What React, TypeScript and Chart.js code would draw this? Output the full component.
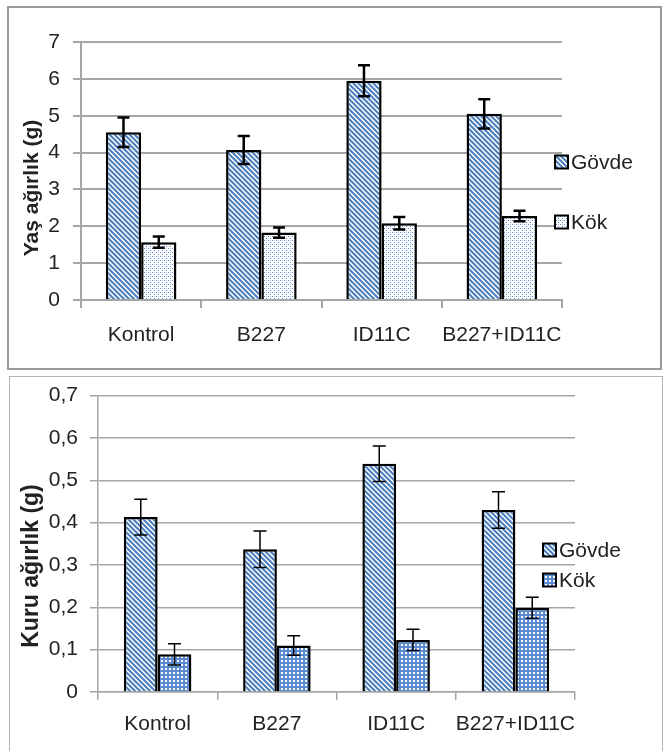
import React, { useEffect, useRef } from "react";
import { Chart, registerables } from "chart.js";

Chart.register(...registerables);

// ---------- data ----------
const categories = ["Kontrol", "B227", "ID11C", "B227+ID11C"];
const seriesLabels = ["Gövde", "Kök"];

const freshStem = [4.55, 4.07, 5.95, 5.05];
const freshStemErr = [0.4, 0.38, 0.42, 0.4];
const freshRoot = [1.57, 1.83, 2.08, 2.28];
const freshRootErr = [0.15, 0.14, 0.17, 0.14];
const freshTickLabels = ["0", "1", "2", "3", "4", "5", "6", "7"];
const freshTitle = "Yaş ağırlık (g)";

const dryStem = [0.413, 0.337, 0.539, 0.43];
const dryStemErr = [0.042, 0.043, 0.042, 0.043];
const dryRoot = [0.089, 0.11, 0.123, 0.199];
const dryRootErr = [0.025, 0.023, 0.025, 0.025];
const dryTickLabels = ["0", "0,1", "0,2", "0,3", "0,4", "0,5", "0,6", "0,7"];
const dryTitle = "Kuru ağırlık (g)";

// ---------- styles ----------
const FONT = "'Liberation Sans', Arial, sans-serif";
const BLUE = "#4a7ebf";
const GRID = "#a6a6a6";
const TEXT = "#222";
const TICK_SIZE = 21;

function stripePattern(ctx: CanvasRenderingContext2D) {
  const n = 5;
  const c = document.createElement("canvas");
  c.width = n;
  c.height = n;
  const g = c.getContext("2d")!;
  g.fillStyle = "#fff";
  g.fillRect(0, 0, n, n);
  g.strokeStyle = BLUE;
  g.lineWidth = 2;
  g.beginPath();
  for (const k of [-n, 0, n]) {
    g.moveTo(-1, -1 + k);
    g.lineTo(n + 1, n + 1 + k);
  }
  g.stroke();
  return ctx.createPattern(c, "repeat")!;
}

function dotPattern(ctx: CanvasRenderingContext2D) {
  const c = document.createElement("canvas");
  c.width = 4;
  c.height = 4;
  const g = c.getContext("2d")!;
  g.fillStyle = "#fff";
  g.fillRect(0, 0, 4, 4);
  g.fillStyle = "#5a8ad0";
  g.fillRect(0, 0, 1, 1);
  g.fillRect(2, 2, 1, 1);
  g.fillStyle = "#b5cbe9";
  g.fillRect(2, 0, 1, 1);
  return ctx.createPattern(c, "repeat")!;
}

function gridPattern(ctx: CanvasRenderingContext2D) {
  const c = document.createElement("canvas");
  c.width = 4;
  c.height = 4;
  const g = c.getContext("2d")!;
  g.fillStyle = "#5a8ad0";
  g.fillRect(0, 0, 4, 4);
  g.fillStyle = "#fff";
  g.fillRect(1, 1, 2, 2);
  return ctx.createPattern(c, "repeat")!;
}

type Cfg = {
  stem: number[];
  stemErr: number[];
  root: number[];
  rootErr: number[];
  tickLabels: string[];
  max: number;
  step: number;
  title: string;
  titleSize: number;
  titleX: number;
  titleY: number;
  area: { left: number; top: number; right: number; bottom: number };
  width: number;
  height: number;
  catPct: number;
  gridWidth: number;
  errWidth: number;
  cap: number;
  yTickPad: number;
  xTickPad: number;
  legendX: number;
  legendY: number[];
  rootPattern: "dot" | "grid";
};

function makeDecor(cfg: Cfg, patterns: CanvasPattern[]) {
  return {
    id: "decor",
    afterDatasetsDraw(chart: any) {
      const ctx: CanvasRenderingContext2D = chart.ctx;
      const ys = chart.scales.y;
      const errs = [cfg.stemErr, cfg.rootErr];
      ctx.save();
      ctx.strokeStyle = "#000";
      ctx.lineWidth = cfg.errWidth;
      chart.data.datasets.forEach((ds: any, di: number) => {
        const meta = chart.getDatasetMeta(di);
        meta.data.forEach((bar: any, i: number) => {
          const v = ds.data[i];
          const e = errs[di][i];
          const x = bar.x;
          const yt = ys.getPixelForValue(v + e);
          const yb = ys.getPixelForValue(v - e);
          ctx.beginPath();
          ctx.moveTo(x, yt);
          ctx.lineTo(x, yb);
          ctx.moveTo(x - cfg.cap, yt);
          ctx.lineTo(x + cfg.cap, yt);
          ctx.moveTo(x - cfg.cap, yb);
          ctx.lineTo(x + cfg.cap, yb);
          ctx.stroke();
        });
      });
      ctx.restore();

      // legend
      ctx.save();
      seriesLabels.forEach((lab, i) => {
        const cy = cfg.legendY[i];
        const s = 13;
        ctx.fillStyle = patterns[i];
        ctx.fillRect(cfg.legendX, cy - s / 2, s, s);
        ctx.strokeStyle = "#000";
        ctx.lineWidth = 2;
        ctx.strokeRect(cfg.legendX, cy - s / 2, s, s);
        ctx.fillStyle = TEXT;
        ctx.font = `21px ${FONT}`;
        ctx.textAlign = "left";
        ctx.textBaseline = "middle";
        ctx.fillText(lab, cfg.legendX + s + 3, cy + 1);
      });
      ctx.restore();

      // axis title
      ctx.save();
      ctx.translate(cfg.titleX, cfg.titleY);
      ctx.rotate(-Math.PI / 2);
      ctx.font = `bold ${cfg.titleSize}px ${FONT}`;
      ctx.fillStyle = TEXT;
      ctx.textAlign = "center";
      ctx.textBaseline = "middle";
      ctx.fillText(cfg.title, 0, 0);
      ctx.restore();
    },
  };
}

function BarChart({ cfg, top }: { cfg: Cfg; top: number }) {
  const ref = useRef<HTMLCanvasElement>(null);
  useEffect(() => {
    const canvas = ref.current!;
    const ctx = canvas.getContext("2d")!;
    const stripe = stripePattern(ctx);
    const rootPat = cfg.rootPattern === "dot" ? dotPattern(ctx) : gridPattern(ctx);
    const a = cfg.area;
    const xHeight = 56;
    const chart = new Chart(ctx, {
      type: "bar",
      data: {
        labels: categories,
        datasets: [
          {
            label: seriesLabels[0],
            data: cfg.stem,
            backgroundColor: stripe as any,
            borderColor: "#000",
            borderWidth: 2.5,
            barPercentage: 1,
            categoryPercentage: cfg.catPct,
          },
          {
            label: seriesLabels[1],
            data: cfg.root,
            backgroundColor: rootPat as any,
            borderColor: "#000",
            borderWidth: 2.5,
            barPercentage: 1,
            categoryPercentage: cfg.catPct,
          },
        ],
      },
      options: {
        responsive: false,
        animation: false,
        devicePixelRatio: 1,
        layout: {
          padding: {
            left: 0,
            top: a.top,
            right: cfg.width - a.right,
            bottom: cfg.height - a.bottom - xHeight,
          },
        },
        plugins: {
          legend: { display: false },
          tooltip: { enabled: false },
        },
        scales: {
          x: {
            ticks: {
              padding: cfg.xTickPad,
              font: { size: TICK_SIZE, family: FONT },
              color: TEXT,
              maxRotation: 0,
              autoSkip: false,
            },
            grid: {
              drawOnChartArea: false,
              drawTicks: true,
              tickLength: 8,
              color: GRID,
              lineWidth: cfg.gridWidth,
              offset: true,
            },
            border: { display: true, color: GRID, width: cfg.gridWidth },
            afterFit: (s: any) => {
              s.height = xHeight;
            },
          },
          y: {
            min: 0,
            max: cfg.max,
            ticks: {
              stepSize: cfg.step,
              padding: cfg.yTickPad,
              font: { size: TICK_SIZE, family: FONT },
              color: TEXT,
              callback: (_v: any, i: number) => cfg.tickLabels[i] ?? "",
            },
            grid: {
              color: GRID,
              lineWidth: cfg.gridWidth,
              tickLength: 8,
              drawTicks: true,
            },
            border: { display: true, color: GRID, width: cfg.gridWidth },
            afterFit: (s: any) => {
              s.width = a.left;
            },
          },
        },
      },
      plugins: [makeDecor(cfg, [stripe, rootPat])],
    } as any);
    return () => chart.destroy();
  }, []);
  return (
    <canvas
      ref={ref}
      width={cfg.width}
      height={cfg.height}
      style={{ position: "absolute", left: 0, top, width: cfg.width, height: cfg.height }}
    />
  );
}

const topCfg: Cfg = {
  stem: freshStem,
  stemErr: freshStemErr,
  root: freshRoot,
  rootErr: freshRootErr,
  tickLabels: freshTickLabels,
  max: 7,
  step: 1,
  title: freshTitle,
  titleSize: 21,
  titleX: 32,
  titleY: 188,
  area: { left: 81, top: 42, right: 562, bottom: 300 },
  width: 664,
  height: 370,
  catPct: 0.587,
  gridWidth: 2,
  errWidth: 2.5,
  cap: 6,
  yTickPad: 13,
  xTickPad: 15,
  legendX: 555,
  legendY: [162, 222],
  rootPattern: "dot",
};

const bottomTop = 371;
const bottomCfg: Cfg = {
  stem: dryStem,
  stemErr: dryStemErr,
  root: dryRoot,
  rootErr: dryRootErr,
  tickLabels: dryTickLabels,
  max: 0.7,
  step: 0.1,
  title: dryTitle,
  titleSize: 23,
  titleX: 32,
  titleY: 566 - bottomTop,
  area: { left: 98, top: 394 - bottomTop, right: 575, bottom: 692 - bottomTop },
  width: 664,
  height: 380,
  catPct: 0.566,
  gridWidth: 1.5,
  errWidth: 1.5,
  cap: 6.5,
  yTickPad: 12,
  xTickPad: 12,
  legendX: 543,
  legendY: [550 - bottomTop, 580 - bottomTop],
  rootPattern: "grid",
};

export default function App() {
  return (
    <div
      style={{
        position: "absolute",
        left: 0,
        top: 0,
        width: 664,
        height: 751,
        background: "#fff",
        overflow: "hidden",
      }}
    >
      <div
        style={{
          position: "absolute",
          left: 7,
          top: 6,
          width: 655,
          height: 364,
          border: "2.5px solid #9a9a9a",
          boxSizing: "border-box",
        }}
      />
      <div
        style={{
          position: "absolute",
          left: 9,
          top: 376,
          width: 654,
          height: 400,
          border: "1px solid #b4b4b4",
          boxSizing: "border-box",
        }}
      />
      <BarChart cfg={topCfg} top={0} />
      <BarChart cfg={bottomCfg} top={bottomTop} />
    </div>
  );
}
